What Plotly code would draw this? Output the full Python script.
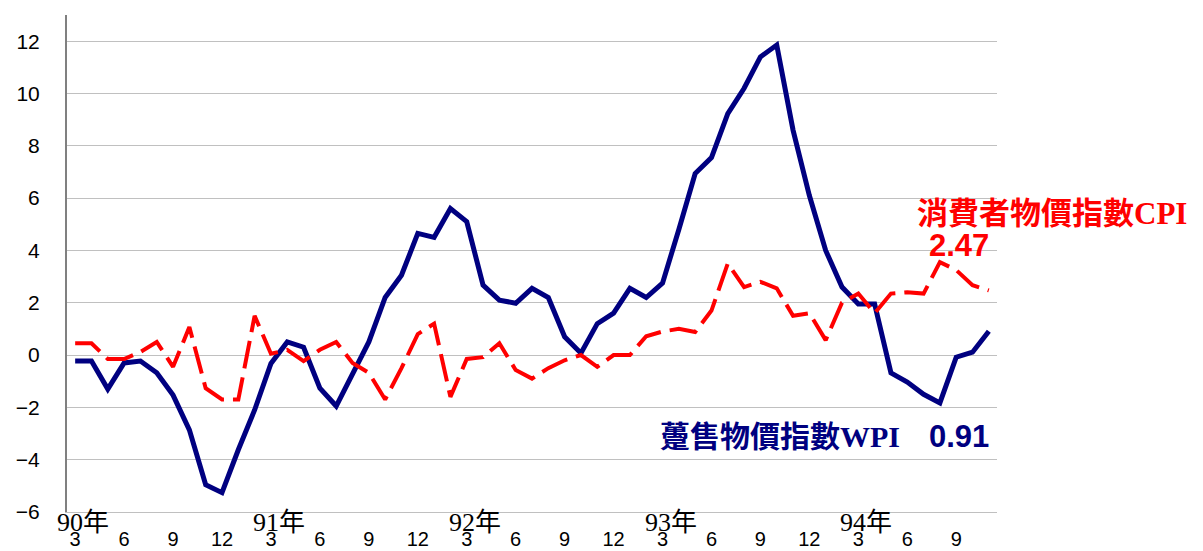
import plotly.graph_objects as go

# 90年3月 ~ 94年11月 年增率(%)
months = [f"{y}/{m}" for y in range(90, 95) for m in range(1, 13)][2:59]

wpi = [-0.23, -0.23, -1.3, -0.3, -0.23, -0.68, -1.53, -2.86, -4.96, -5.26,
       -3.62, -2.1, -0.32, 0.5, 0.3, -1.27, -1.95, -0.7, 0.5, 2.2,
       3.05, 4.65, 4.5, 5.6, 5.1, 2.67, 2.1, 1.98, 2.55, 2.2,
       0.7, 0.07, 1.2, 1.6, 2.55, 2.2, 2.75, 4.8, 6.94, 7.55,
       9.23, 10.2, 11.4, 11.85, 8.6, 6.1, 4.0, 2.6, 1.95, 1.95,
       -0.68, -1.03, -1.5, -1.83, -0.08, 0.11, 0.91]

cpi = [0.45, 0.45, -0.15, -0.15, 0.12, 0.5, -0.45, 1.07, -1.27, -1.7,
       -1.7, 1.5, 0.05, 0.2, -0.23, 0.2, 0.5, -0.3, -0.68, -1.7,
       -0.5, 0.8, 1.2, -1.6, -0.15, -0.08, 0.45, -0.57, -0.9, -0.5,
       -0.2, 0.0, -0.45, 0.0, 0.0, 0.72, 0.9, 1.0, 0.88, 1.7,
       3.5, 2.6, 2.8, 2.55, 1.5, 1.6, 0.57, 2.0, 2.35, 1.6,
       2.35, 2.4, 2.35, 3.55, 3.25, 2.67, 2.47]

tick_vals = months[::3]
tick_text = [m.split("/")[1] for m in tick_vals]
year_vals = ["90/3", "91/3", "92/3", "93/3", "94/3"]
year_text = ["90年", "91年", "92年", "93年", "94年"]

NAVY = "#000080"
RED = "#FF0000"
cjk = "Liberation Serif, Noto Sans CJK TC"

fig = go.Figure()
fig.add_trace(go.Scatter(x=months, y=wpi, mode="lines", name="WPI",
                         line=dict(color=NAVY, width=5)))
fig.add_trace(go.Scatter(x=months, y=cpi, mode="lines", name="CPI",
                         line=dict(color=RED, width=4, dash="28px,9px")))

annotations = []
for v, t in zip(year_vals, year_text):
    annotations.append(dict(x=v, y=0, xref="x", yref="paper", yanchor="middle",
                            text=t, showarrow=False, xshift=8, yshift=-10,
                            font=dict(family=cjk, size=26, color="black")))

annotations += [
    dict(x=0.912, y=5.4, xref="paper", yref="y", xanchor="left", showarrow=False,
         text="<b>消費者物價指數CPI</b>", font=dict(family=cjk, size=31, color=RED)),
    dict(x=0.925, y=4.2, xref="paper", yref="y", xanchor="left", showarrow=False,
         text="<b>2.47</b>", font=dict(family="Arial, Liberation Sans", size=31, color=RED)),
    dict(x=0.636, y=-3.13, xref="paper", yref="y", xanchor="left", showarrow=False,
         text="<b>躉售物價指數WPI</b>", font=dict(family=cjk, size=30, color=NAVY)),
    dict(x=0.925, y=-3.13, xref="paper", yref="y", xanchor="left", showarrow=False,
         text="<b>0.91</b>", font=dict(family="Arial, Liberation Sans", size=31, color=NAVY)),
]

# page body adds an 8px margin, so the figure is a bit smaller than the window
fig.update_layout(
    width=1195, height=543,
    margin=dict(l=59, r=206, t=7, b=39),
    plot_bgcolor="white", paper_bgcolor="white",
    showlegend=False,
    annotations=annotations,
    xaxis=dict(type="category", range=[-0.5, len(months) - 0.5], automargin=False,
               tickvals=tick_vals, ticktext=tick_text, showgrid=False,
               showline=True, linecolor="#c0c0c0", linewidth=1, ticks="",
               ticklabelstandoff=9,
               tickfont=dict(family="Arial, Liberation Sans", size=20, color="black")),
    yaxis=dict(range=[-6, 13], tickvals=list(range(-6, 13, 2)), showgrid=True,
               automargin=False,
               gridcolor="#c0c0c0", gridwidth=1, zeroline=False,
               showline=True, linecolor="#808080", linewidth=2, ticks="",
               ticklabelstandoff=21,
               tickfont=dict(family="Arial, Liberation Sans", size=21, color="black")),
)

fig.write_html("out.html")
